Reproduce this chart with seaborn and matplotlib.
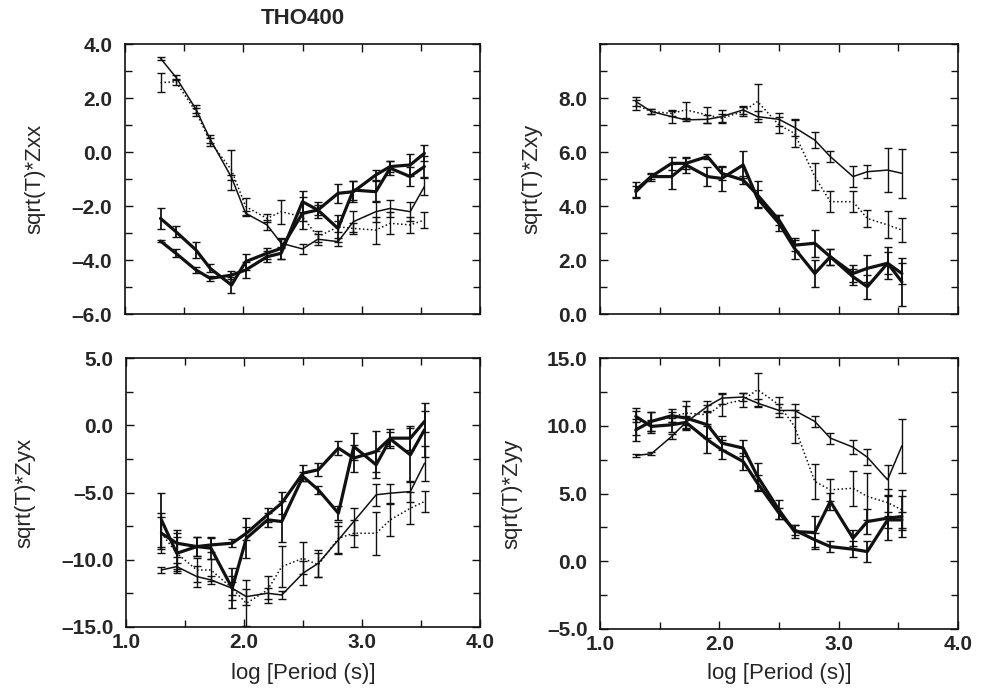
import numpy as np
import pandas as pd
import matplotlib
matplotlib.use("Agg")
import matplotlib.pyplot as plt
import seaborn as sns
from matplotlib.ticker import MultipleLocator, FormatStrFormatter, FuncFormatter

sns.set_style("ticks")
plt.rcParams['font.family'] = ['Liberation Sans', 'DejaVu Sans']

periods = [1.30, 1.43, 1.60, 1.72, 1.90, 2.02, 2.20, 2.32, 2.50, 2.63, 2.80, 2.93, 3.12, 3.24, 3.41, 3.53]

# ---- Zxx ----
zxx_thin = [3.47, 2.77, 1.58, 0.47, -0.94, -2.27, -2.70, -3.38, -3.59, -3.23, -3.32, -2.58, -2.21, -2.09, -2.21, -1.28]
zxx_thin_err = [0.05, 0.1, 0.15, 0.15, 0.1, 0.1, 0.2, 0.15, 0.2, 0.2, 0.15, 0.4, 0.4, 0.3, 0.35, 0.3]
zxx_dot = [2.57, 2.60, 1.49, 0.38, -0.67, -2.02, -2.46, -2.21, -2.40, -3.14, -2.77, -2.83, -2.89, -2.64, -2.70, -2.52]
zxx_dot_err = [0.35, 0.1, 0.15, 0.15, 0.75, 0.3, 0.15, 0.45, 0.15, 0.2, 0.2, 0.2, 0.5, 0.4, 0.3, 0.3]
zxx_thk1 = [-2.46, -2.95, -3.63, -4.31, -4.93, -4.06, -3.75, -3.57, -2.27, -2.15, -2.83, -1.41, -1.47, -0.60, -0.91, -0.54]
zxx_thk1_err = [0.4, 0.2, 0.3, 0.15, 0.3, 0.3, 0.2, 0.4, 0.6, 0.3, 0.5, 0.35, 0.4, 0.25, 0.35, 0.4]
zxx_thk2 = [-3.30, -3.75, -4.37, -4.68, -4.56, -4.37, -3.88, -3.75, -1.84, -2.15, -1.53, -1.47, -0.85, -0.54, -0.48, -0.05]
zxx_thk2_err = [0.05, 0.15, 0.1, 0.1, 0.15, 0.3, 0.2, 0.2, 0.4, 0.2, 0.35, 0.4, 0.2, 0.2, 0.4, 0.3]

# ---- Zxy ----
zxy_thin = [7.87, 7.50, 7.31, 7.19, 7.21, 7.31, 7.56, 7.31, 7.21, 6.91, 6.44, 5.83, 5.09, 5.27, 5.33, 5.21]
zxy_thin_err = [0.15, 0.1, 0.25, 0.05, 0.15, 0.25, 0.15, 0.2, 0.25, 0.3, 0.3, 0.2, 0.4, 0.25, 0.8, 0.9]
zxy_dot = [7.74, 7.50, 7.43, 7.56, 7.37, 7.25, 7.50, 7.87, 7.00, 6.69, 5.09, 4.16, 4.16, 3.54, 3.30, 3.11]
zxy_dot_err = [0.2, 0.1, 0.1, 0.3, 0.3, 0.15, 0.15, 0.65, 0.3, 0.5, 0.5, 0.4, 0.4, 0.3, 0.5, 0.45]
zxy_thk1 = [4.53, 5.09, 5.58, 5.58, 5.83, 5.21, 4.96, 4.41, 3.48, 2.55, 2.62, 2.12, 1.50, 1.69, 1.88, 1.50]
zxy_thk1_err = [0.2, 0.1, 0.25, 0.2, 0.1, 0.25, 0.15, 0.5, 0.2, 0.2, 0.5, 0.3, 0.3, 0.5, 0.4, 0.4]
zxy_thk2 = [4.59, 5.09, 5.09, 5.52, 5.09, 5.02, 5.52, 4.28, 3.36, 2.43, 1.50, 2.12, 1.38, 1.01, 1.88, 1.19]
zxy_thk2_err = [0.3, 0.15, 0.45, 0.3, 0.35, 0.45, 0.5, 0.3, 0.3, 0.4, 0.5, 0.3, 0.3, 0.45, 0.6, 0.9]

# ---- Zyx ----
zyx_thk1 = [-8.03, -8.77, -9.02, -8.90, -8.77, -8.03, -6.66, -5.79, -3.56, -3.31, -1.70, -2.44, -1.95, -0.96, -0.96, 0.29]
zyx_thk1_err = [1.2, 1.0, 0.7, 0.5, 0.3, 0.5, 0.5, 0.8, 0.6, 0.5, 0.5, 1.0, 1.5, 0.7, 0.9, 0.8]
zyx_thk2 = [-7.03, -9.52, -9.02, -9.14, -12.12, -8.40, -7.03, -7.16, -3.81, -4.80, -6.54, -1.58, -2.94, -1.03, -2.20, -0.33]
zyx_thk2_err = [2.0, 1.5, 0.7, 0.8, 1.5, 1.5, 0.5, 1.5, 0.3, 0.3, 0.5, 1.0, 1.0, 0.5, 2.0, 2.0]
zyx_thin = [-10.76, -10.51, -11.25, -11.50, -12.12, -12.74, -12.49, -12.62, -11.00, -10.26, -8.52, -7.16, -5.17, -5.05, -4.93, -2.82]
zyx_thin_err = [0.2, 0.3, 0.8, 0.3, 0.5, 0.6, 0.4, 0.3, 0.9, 1.0, 1.0, 1.0, 0.8, 0.7, 0.8, 1.3]
zyx_dot = [-8.03, -9.52, -10.76, -10.76, -12.12, -13.24, -12.24, -10.51, -9.89, -10.38, -8.40, -8.03, -8.03, -7.03, -6.17, -5.67]
zyx_dot_err = [1.5, 1.2, 0.9, 0.8, 0.9, 1.7, 1.0, 1.5, 1.2, 0.9, 1.2, 1.0, 1.6, 1.2, 1.2, 0.8]

# ---- Zyy ----
zyy_thin = [7.81, 7.93, 9.21, 10.25, 11.43, 12.04, 12.12, 11.67, 11.13, 11.13, 10.32, 9.09, 8.42, 7.68, 6.01, 8.52]
zyy_thin_err = [0.1, 0.1, 0.2, 0.5, 0.4, 0.4, 0.3, 0.3, 0.5, 0.5, 0.4, 0.4, 0.5, 0.6, 1.1, 2.0]
zyy_dot = [10.32, 10.32, 10.64, 10.94, 10.81, 11.55, 11.92, 12.66, 11.55, 9.95, 5.89, 5.27, 5.39, 4.78, 4.33, 3.79]
zyy_dot_err = [1.0, 0.7, 0.4, 0.9, 0.7, 0.8, 0.5, 1.2, 0.6, 1.2, 1.3, 0.8, 1.3, 1.7, 1.0, 1.5]
zyy_thk1 = [9.70, 10.32, 10.74, 10.57, 10.07, 8.72, 8.35, 6.26, 3.79, 2.19, 2.12, 4.41, 1.70, 2.93, 3.18, 3.30]
zyy_thk1_err = [0.8, 0.7, 0.5, 0.9, 1.0, 0.5, 0.6, 1.0, 0.7, 0.5, 1.2, 0.6, 0.6, 0.9, 1.6, 1.5]
zyy_thk2 = [10.69, 9.95, 10.07, 10.25, 8.97, 8.23, 7.36, 5.76, 3.55, 2.31, 1.58, 1.08, 0.89, 0.71, 3.05, 3.05]
zyy_thk2_err = [0.4, 0.5, 0.5, 0.4, 1.0, 0.7, 0.6, 0.6, 0.4, 0.4, 0.5, 0.4, 0.6, 0.8, 0.6, 0.6]

ylabels = ["sqrt(T)*Zxx", "sqrt(T)*Zxy", "sqrt(T)*Zyx", "sqrt(T)*Zyy"]
xlabel = "log [Period (s)]"
title = "THO400"

panels = [
    [(zxx_thk1, zxx_thk1_err, 'thick'), (zxx_thk2, zxx_thk2_err, 'thick'),
     (zxx_thin, zxx_thin_err, 'thin'), (zxx_dot, zxx_dot_err, 'dot')],
    [(zxy_thk1, zxy_thk1_err, 'thick'), (zxy_thk2, zxy_thk2_err, 'thick'),
     (zxy_thin, zxy_thin_err, 'thin'), (zxy_dot, zxy_dot_err, 'dot')],
    [(zyx_thk1, zyx_thk1_err, 'thick'), (zyx_thk2, zyx_thk2_err, 'thick'),
     (zyx_thin, zyx_thin_err, 'thin'), (zyx_dot, zyx_dot_err, 'dot')],
    [(zyy_thk1, zyy_thk1_err, 'thick'), (zyy_thk2, zyy_thk2_err, 'thick'),
     (zyy_thin, zyy_thin_err, 'thin'), (zyy_dot, zyy_dot_err, 'dot')],
]
ylims = [(-6, 4), (0, 10), (-15, 5), (-5, 15)]
ymajor = [2, 2, 5, 5]
yminor = [1, 1, 2.5, 2.5]

W, H = 981, 690
fig = plt.figure(figsize=(W / 100, H / 100), dpi=100)
rects = [(125, 44, 480, 314), (600, 44, 958, 314), (126, 358, 480, 627), (600, 358, 958, 629)]
ylabel_cx = [35, 532, 25, 512]
xlabel_cy = 673
ink = '#111111'
styles = {'thick': dict(lw=2.3, ls='-'), 'thin': dict(lw=1.1, ls='-'), 'dot': dict(lw=1.1, ls=(0, (1, 1.6)))}

def fmt(v, pos):
    s = '%.1f' % abs(v)
    return ('\u2013' + s) if v < -1e-9 else s

for i, (x0, y0, x1, y1) in enumerate(rects):
    ax = fig.add_axes([x0 / W, 1 - y1 / H, (x1 - x0) / W, (y1 - y0) / H])
    for vals, errs, kind in panels[i]:
        df = pd.DataFrame({'period': periods, 'value': vals})
        sns.lineplot(data=df, x='period', y='value', ax=ax, color=ink, sort=False,
                     estimator=None, linewidth=styles[kind]['lw'], linestyle=styles[kind]['ls'])
        ax.errorbar(periods, vals, yerr=errs, fmt='none', ecolor=ink,
                    elinewidth=1.0 if kind != 'thick' else 1.3, capsize=3, capthick=1.0)
    ax.set_xlim(1, 4)
    ax.set_ylim(*ylims[i])
    ax.xaxis.set_major_locator(MultipleLocator(1))
    ax.xaxis.set_minor_locator(MultipleLocator(0.5))
    ax.yaxis.set_major_locator(MultipleLocator(ymajor[i]))
    ax.yaxis.set_minor_locator(MultipleLocator(yminor[i]))
    ax.xaxis.set_major_formatter(FormatStrFormatter('%.1f'))
    ax.yaxis.set_major_formatter(FuncFormatter(fmt))
    if i == 1:
        ax.set_yticks([0, 2, 4, 6, 8])
        ax.yaxis.set_minor_locator(MultipleLocator(1))
        ax.set_ylim(0, 10)
    ax.tick_params(which='both', direction='in', top=True, right=True, width=1.0, color=ink)
    ax.tick_params(which='major', length=6, labelsize=15)
    ax.tick_params(axis='y', which='major', pad=9)
    ax.tick_params(axis='x', which='major', pad=4)
    ax.tick_params(which='minor', length=5)
    if i < 2:
        ax.tick_params(axis='x', labelbottom=False)
        ax.set_xlabel('')
    else:
        ax.set_xlabel(xlabel, fontsize=16, va='center')
        ax.xaxis.set_label_coords(0.5, (y1 - xlabel_cy) / (y1 - y0))
    ax.set_ylabel(ylabels[i], fontsize=16, va='center')
    ax.yaxis.set_label_coords((ylabel_cx[i] - x0) / (x1 - x0), 0.5)
    for s in ax.spines.values():
        s.set_linewidth(1.2)
        s.set_color(ink)
    for lab in ax.get_xticklabels() + ax.get_yticklabels():
        lab.set_fontweight('bold')

fig.text(303 / W, 1 - 18 / H, title, fontsize=16, fontweight='bold', ha='center', va='center')

fig.savefig('out.png', dpi=100)
